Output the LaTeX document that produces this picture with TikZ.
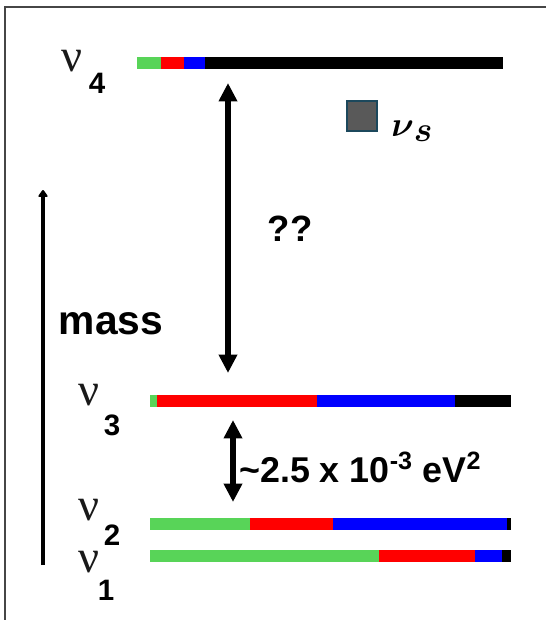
\documentclass[tikz,border=0pt]{standalone}
\usepackage{amsmath,amssymb}
\usepackage{fontspec}
\setmainfont{Liberation Sans}
\newfontfamily\nufont{Liberation Serif}
\usetikzlibrary{arrows.meta,positioning,calc}
\definecolor{flavgreen}{RGB}{88,212,88}
\definecolor{flavred}{RGB}{255,0,0}
\definecolor{flavblue}{RGB}{0,0,255}
\definecolor{framegrey}{RGB}{70,70,70}
\definecolor{sterile}{RGB}{89,89,89}
\definecolor{steriledge}{RGB}{28,72,92}

% y, start, end green, end red, end blue, end black
\newcommand{\massbar}[6]{%
  \fill[flavgreen] (#2,#1-6) rectangle (#3,#1+6);
  \fill[flavred]   (#3,#1-6) rectangle (#4,#1+6);
  \fill[flavblue]  (#4,#1-6) rectangle (#5,#1+6);
  \fill[black]     (#5,#1-6) rectangle (#6,#1+6);
}

\begin{document}
\begin{tikzpicture}[x=0.025cm, y=-0.025cm,
  nu/.style={font=\nufont\fontsize{33}{33}\selectfont, text=black!90, inner sep=0, anchor=base},
  idx/.style={font=\bfseries\fontsize{21}{21}\selectfont, inner sep=0, anchor=base},
  big/.style={font=\bfseries\fontsize{#1}{#1}\selectfont, inner sep=0},
  dbl/.style={{Triangle[width=12.5pt,length=13pt]}-{Triangle[width=12.5pt,length=13pt]}, line width=3.6pt},
]
  \useasboundingbox (0,0) rectangle (546,620);
  \draw[framegrey, line width=1.5pt] (5,620) -- (5,7) -- (546,7);

  % mass eigenstates
  \massbar{62.5}{137}{161}{184}{205}{503}
  \massbar{401}{150}{157}{317}{455}{511}
  \massbar{524}{150}{250}{333}{507}{511}
  \massbar{555.5}{150}{379}{475}{502}{511}

  \node[nu] (nu4) at (72,71) {ν};
  \node[idx] (i4) at (97,93) {4};
  \node[nu] (nu3) at (89,405) {ν};
  \node[idx] (i3) at (112,435) {3};
  \node[nu] (nu2) at (89,520) {ν};
  \node[idx] (i2) at (112,545) {2};
  \node[nu] (nu1) at (89,572) {ν};
  \node[idx] (i1) at (106,600) {1};

  % sterile state
  \node[draw=steriledge, fill=sterile, line width=1.5pt, minimum size=21.5pt, inner sep=0] (sbox) at (362,116) {};
  \node[anchor=base west, inner sep=0, font=\fontsize{34}{34}\selectfont] (nus) at (391,136) {$\boldsymbol{\nu}_{\boldsymbol{s}}$};

  % splittings
  \coordinate (gaptop) at (228,83);
  \coordinate (gapbot) at (228,373);
  \draw[dbl] (gaptop) -- (gapbot);
  \node[big=26, anchor=base] (qq) at (290,241) {??};

  \coordinate (atmtop) at (233,420);
  \coordinate (atmbot) at (233,502);
  \draw[dbl] (atmtop) -- (atmbot);
  \node[big=25.5, anchor=base west] (atm) at (239,482) {\textasciitilde2.5 x 10\textsuperscript{-3} eV\textsuperscript{2}};

  % mass axis
  \coordinate (axbot) at (43,565);
  \coordinate (axtop) at (43,190);
  \draw[-{Triangle[width=7.5pt,length=5.5pt,round]}, line width=2.4pt] (axbot) -- (axtop);
  \node[big=29, anchor=base] (mass) at (111,334) {mass};
\end{tikzpicture}
\end{document}
